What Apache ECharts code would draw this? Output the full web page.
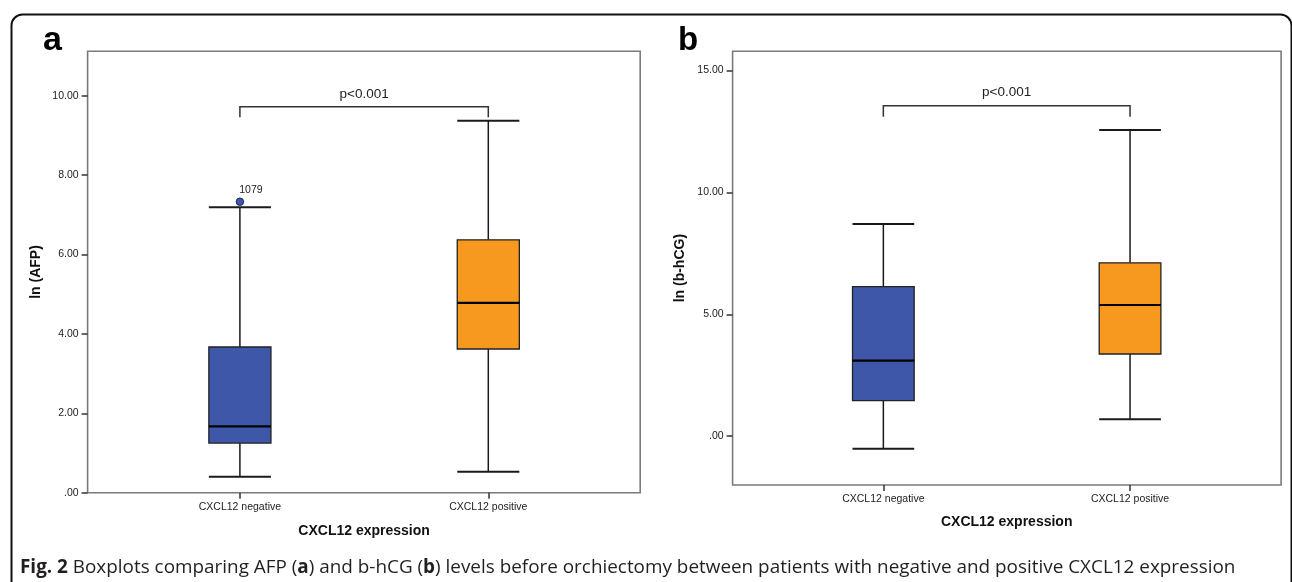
<!DOCTYPE html>
<html>
<head>
<meta charset="utf-8">
<script src="https://cdn.jsdelivr.net/npm/echarts@6/dist/echarts.min.js"></script>
<style>
  html, body { margin: 0; padding: 0; background: #fff; }
  #chart { width: 1292px; height: 582px; }
</style>
</head>
<body>
<div id="chart"></div>
<script>
// ---------- data ----------
const categories = ['CXCL12 negative', 'CXCL12 positive'];
// [lower whisker, Q1, median, Q3, upper whisker]
const afpNegative = [0.40, 1.25, 1.67, 3.67, 7.19];
const afpPositive = [0.53, 3.62, 4.78, 6.37, 9.37];
const afpOutlierValue = [7.33];
const afpOutlierLabel = ['1079'];
const hcgNegative = [-0.51, 1.46, 3.10, 6.13, 8.70];
const hcgPositive = [0.70, 3.37, 5.38, 7.11, 12.55];
const afpTicks = [0, 2, 4, 6, 8, 10];
const hcgTicks = [0, 5, 10, 15];
// significance bracket: [top value, drop value]
const afpBracket = [9.72, 9.46];
const hcgBracket = [13.55, 13.10];
const pText = 'p<0.001';

// ---------- styles ----------
const boxColors = ['#3e57a8', '#f7991e'];
const FONT = 'Liberation Sans, Arial, sans-serif';
const frameColor = '#7a7a7a';

const chart = echarts.init(document.getElementById('chart'), null, { renderer: 'canvas' });

function boxRender(params, api) {
  const x = api.value(0);
  const lo = api.coord([x, api.value(1)]);
  const q1 = api.coord([x, api.value(2)]);
  const md = api.coord([x, api.value(3)]);
  const q3 = api.coord([x, api.value(4)]);
  const hi = api.coord([x, api.value(5)]);
  const band = api.size([1, 0])[0];
  const bw = band * 0.25, cw = band * 0.125;
  const cx = lo[0];
  const ln = { stroke: '#1a1a1a', lineWidth: 1.5 };
  return {
    type: 'group',
    children: [
      { type: 'line', shape: { x1: cx, y1: hi[1], x2: cx, y2: q3[1] }, style: ln },
      { type: 'line', shape: { x1: cx, y1: q1[1], x2: cx, y2: lo[1] }, style: ln },
      { type: 'line', shape: { x1: cx - cw, y1: hi[1], x2: cx + cw, y2: hi[1] }, style: { stroke: '#1a1a1a', lineWidth: 2 } },
      { type: 'line', shape: { x1: cx - cw, y1: lo[1], x2: cx + cw, y2: lo[1] }, style: { stroke: '#1a1a1a', lineWidth: 2 } },
      { type: 'rect', shape: { x: cx - bw / 2, y: q3[1], width: bw, height: q1[1] - q3[1] },
        style: { fill: boxColors[params.dataIndex], stroke: '#222', lineWidth: 1.3 } },
      { type: 'line', shape: { x1: cx - bw / 2, y1: md[1], x2: cx + bw / 2, y2: md[1] }, style: { stroke: '#000', lineWidth: 2.2 } }
    ]
  };
}

function bracketRender(params, api) {
  const top0 = api.coord([0, api.value(0)]);
  const top1 = api.coord([1, api.value(0)]);
  const drop = api.coord([0, api.value(1)]);
  const st = { stroke: '#333', lineWidth: 1.5, fill: null };
  return {
    type: 'group',
    children: [
      { type: 'polyline', shape: { points: [[top0[0], drop[1]], [top0[0], top0[1]], [top1[0], top1[1]], [top1[0], drop[1]]] }, style: st },
      { type: 'text', x: (top0[0] + top1[0]) / 2, y: top0[1] - 13,
        style: { text: pText, fontFamily: FONT, fontSize: 13.5, fill: '#222', align: 'center', verticalAlign: 'middle' } }
    ]
  };
}

function boxData(neg, pos) {
  return [[0].concat(neg), [1].concat(pos)];
}

const yLabel = {
  fontFamily: FONT, fontSize: 10.5, color: '#222', margin: 9,
  formatter: v => (v === 0 ? '.00' : v.toFixed(2))
};

function catAxis(gridIndex, gap) {
  return {
    type: 'category', gridIndex: gridIndex, data: categories,
    axisLine: { show: false, onZero: false }, splitLine: { show: false },
    axisTick: { show: true, alignWithLabel: true, length: 6, lineStyle: { color: '#333', width: 1.5 } },
    axisLabel: { fontFamily: FONT, fontSize: 10.5, color: '#222', margin: 9 },
    name: 'CXCL12 expression', nameLocation: 'middle', nameGap: gap,
    nameTextStyle: { fontFamily: FONT, fontSize: 14, fontWeight: 'bold', color: '#111' }
  };
}

const option = {
  animation: false,
  backgroundColor: '#fff',
  grid: [
    { left: 87.6, top: 51.3, width: 552.6, height: 441.4, show: true, borderColor: frameColor, borderWidth: 1.6, backgroundColor: 'transparent' },
    { left: 732.6, top: 51.3, width: 548.5, height: 433.7, show: true, borderColor: frameColor, borderWidth: 1.6, backgroundColor: 'transparent' },
    { left: 115.7, top: 51.3, width: 496.8, height: 441.4 },
    { left: 760, top: 51.3, width: 493.4, height: 433.7 }
  ],
  xAxis: [
    { type: 'value', gridIndex: 0, show: false, min: 0, max: 1 },
    { type: 'value', gridIndex: 1, show: false, min: 0, max: 1 },
    catAxis(2, 31),
    catAxis(3, 30)
  ],
  yAxis: [
    { type: 'value', gridIndex: 0, min: 0, max: 11.12,
      axisLine: { show: false }, splitLine: { show: false },
      axisTick: { show: true, length: 6, customValues: afpTicks, lineStyle: { color: '#333', width: 1.5 } },
      axisLabel: Object.assign({ customValues: afpTicks }, yLabel),
      name: 'ln (AFP)', nameLocation: 'middle', nameGap: 44,
      nameTextStyle: { fontFamily: FONT, fontSize: 14, fontWeight: 'bold', color: '#111' } },
    { type: 'value', gridIndex: 1, min: -2, max: 15.78,
      axisLine: { show: false }, splitLine: { show: false },
      axisTick: { show: true, length: 6, customValues: hcgTicks, lineStyle: { color: '#333', width: 1.5 } },
      axisLabel: Object.assign({ customValues: hcgTicks }, yLabel),
      name: 'ln (b-hCG)', nameLocation: 'middle', nameGap: 45,
      nameTextStyle: { fontFamily: FONT, fontSize: 14, fontWeight: 'bold', color: '#111' } },
    { type: 'value', gridIndex: 2, min: 0, max: 11.12, show: false },
    { type: 'value', gridIndex: 3, min: -2, max: 15.78, show: false }
  ],
  series: [
    { type: 'custom', xAxisIndex: 2, yAxisIndex: 2, renderItem: boxRender,
      encode: { x: 0, y: [1, 2, 3, 4, 5] }, data: boxData(afpNegative, afpPositive), silent: true },
    { type: 'custom', xAxisIndex: 3, yAxisIndex: 3, renderItem: boxRender,
      encode: { x: 0, y: [1, 2, 3, 4, 5] }, data: boxData(hcgNegative, hcgPositive), silent: true },
    { type: 'scatter', xAxisIndex: 2, yAxisIndex: 2, symbol: 'circle', symbolSize: 7.5,
      itemStyle: { color: '#3e57a8', borderColor: '#1e2a5a', borderWidth: 1, opacity: 1 },
      label: { show: true, position: 'top', distance: 2, offset: [11, 0], fontFamily: FONT, fontSize: 10.5, color: '#222',
        formatter: p => afpOutlierLabel[p.dataIndex] },
      data: afpOutlierValue.map(v => [0, v]) },
    { type: 'custom', xAxisIndex: 2, yAxisIndex: 2, renderItem: bracketRender,
      encode: { y: [0, 1] }, data: [afpBracket], silent: true },
    { type: 'custom', xAxisIndex: 3, yAxisIndex: 3, renderItem: bracketRender,
      encode: { y: [0, 1] }, data: [hcgBracket], silent: true }
  ],
  graphic: [
    { type: 'rect', left: 9, top: 12, shape: { x: 0, y: 0, width: 1280, height: 620, r: 11 },
      style: { fill: null, stroke: '#111', lineWidth: 2 }, silent: true },
    { type: 'text', left: 43, top: 24, style: { text: 'a', fontFamily: FONT, fontSize: 34, fontWeight: 'bold', fill: '#000' } },
    { type: 'text', left: 678, top: 24, style: { text: 'b', fontFamily: FONT, fontSize: 33, fontWeight: 'bold', fill: '#000' } },
    { type: 'text', left: 20, top: 558,
      style: {
        text: '{b|Fig. 2} Boxplots comparing AFP ({b|a}) and b-hCG ({b|b}) levels before orchiectomy between patients with negative and positive CXCL12 expression',
        fontFamily: 'Open Sans, Noto Sans, sans-serif', fontSize: 18.9, fill: '#231f20',
        rich: { b: { fontFamily: 'Open Sans, Noto Sans, sans-serif', fontSize: 18.9, fontWeight: 'bold', fill: '#231f20', color: '#231f20' } }
      } }
  ]
};
chart.setOption(option);
</script>
</body>
</html>
